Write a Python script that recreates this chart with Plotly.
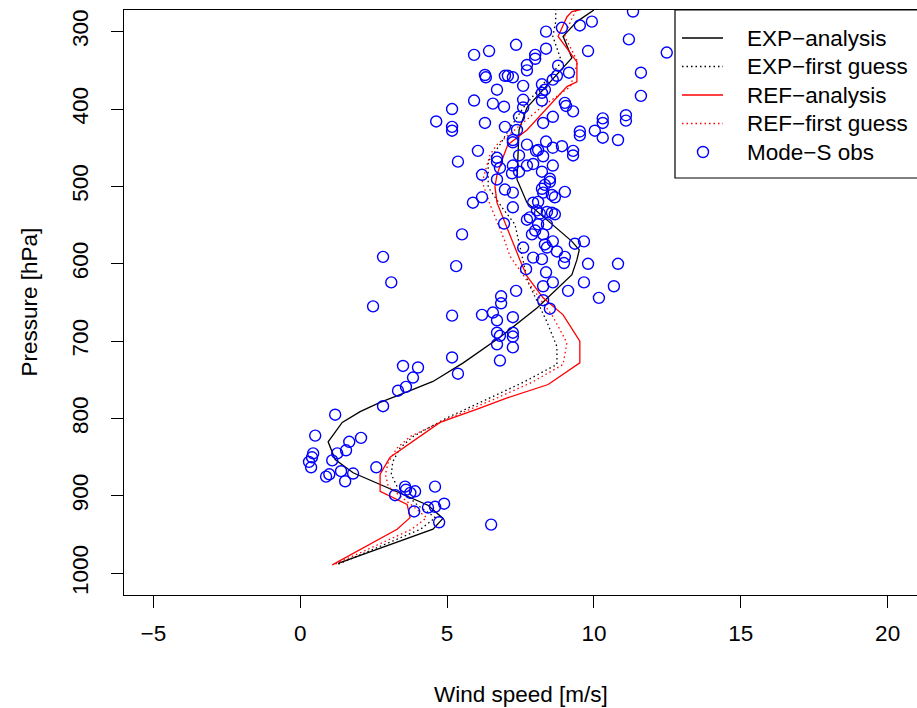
import plotly.graph_objects as go

# ---- model profiles: pressure levels [hPa] and wind speed [m/s] ----
exp_an_p = [987, 943, 929, 912, 870, 853, 830, 805, 791, 779, 769, 752, 728, 695, 657,
            614, 595, 582, 571, 521, 491, 427, 398, 334, 306, 287, 272]
exp_an_v = [1.29, 4.52, 4.86, 4.35, 1.8, 1.19, 0.95, 1.43, 2.04, 2.72, 3.4, 4.52, 5.55, 6.8, 8.06,
            9.25, 9.42, 9.5, 9.25, 7.72, 7.38, 7.45, 7.72, 9.25, 8.95, 9.42, 10.0]

exp_fg_p = [988, 943, 928, 912, 888, 872, 856, 838, 823, 799, 775, 753, 730, 707, 675,
            655, 624, 598, 549, 527, 501, 468, 446, 427, 398, 371, 339, 306, 287, 272]
exp_fg_v = [1.3, 4.1, 4.6, 4.0, 3.3, 3.1, 3.15, 3.4, 3.85, 5.0, 6.36, 7.6, 8.74, 8.74, 8.4,
            8.16, 7.76, 7.6, 7.31, 6.87, 6.4, 6.4, 6.8, 7.1, 7.6, 8.2, 8.9, 8.6, 8.7, 8.7]

ref_an_p = [989, 969, 943, 928, 911, 894, 872, 850, 830, 805, 788, 773, 756, 728, 700, 666,
            644, 616, 595, 521, 500, 485, 463, 446, 427, 371, 365, 339, 306, 281, 274, 271]
ref_an_v = [1.09, 2.04, 3.3, 3.74, 3.64, 2.72, 2.72, 3.06, 3.8, 4.76, 6.0, 7.07, 8.44, 9.52, 9.52, 8.95,
            8.27, 7.72, 7.48, 6.7, 6.63, 6.7, 6.9, 7.07, 7.72, 9.08, 9.42, 9.42, 8.78, 9.08, 9.25, 9.6]

ref_fg_p = [988, 943, 928, 912, 888, 872, 856, 838, 823, 799, 775, 753, 730, 702, 668,
            633, 590, 571, 523, 494, 459, 446, 427, 398, 371, 339, 306, 287, 272]
ref_fg_v = [1.2, 3.8, 4.3, 3.8, 3.0, 2.9, 3.0, 3.3, 3.75, 5.1, 6.6, 7.9, 8.95, 9.08, 8.6,
            7.93, 7.14, 6.97, 6.46, 6.2, 6.46, 6.7, 7.3, 8.2, 9.2, 9.45, 9.0, 9.2, 9.4]

# ---- Mode-S aircraft observations ----
obs_v = [11.33, 9.93, 9.52, 8.91, 8.37, 11.19, 12.48, 9.8, 7.35, 6.43, 5.92, 8.37, 8.0, 8.0,
         7.72, 7.72, 8.78, 9.15, 11.6, 6.29, 6.32, 6.97, 7.07, 7.24, 8.74, 8.6, 7.59, 8.23,
         8.33, 6.7, 8.23, 11.6, 5.92, 6.56, 7.59, 8.23, 6.94, 7.59, 9.01, 9.05, 9.29, 5.17,
         4.63, 5.17, 5.17, 6.29, 6.97, 7.45, 8.6, 8.27, 10.3, 10.3, 11.09, 11.09,
         7.38, 9.52, 9.52, 10.03, 10.3, 10.82, 6.05, 5.37, 7.24, 7.24, 7.72, 8.37, 8.03, 8.1,
         8.6, 8.91, 9.29, 9.29, 8.27, 7.45, 6.7, 6.7, 6.8, 7.24, 7.72, 7.93, 8.6, 6.19, 7.21,
         7.45, 8.23, 6.7, 8.5, 8.5, 8.33, 8.23, 9.01, 6.97, 7.24, 8.27, 8.57, 8.67, 6.19, 5.88,
         7.24, 7.93, 8.1, 8.06, 8.4, 8.57, 8.67, 8.16, 7.72, 7.82, 8.1, 8.4, 8.0, 6.94, 5.51,
         7.89, 8.27, 8.6, 8.33, 7.59, 8.4, 9.35, 9.66, 8.74, 7.93, 8.23, 9.01,
         5.31, 8.37, 7.69, 8.98, 9.8, 10.82, 8.6, 8.27, 9.66, 9.12, 10.68, 10.17, 8.27, 8.5,
         7.35, 6.84, 6.84, 6.56, 6.19, 5.17, 6.7, 7.24, 6.7, 6.8, 7.24, 7.24, 6.7, 7.24, 6.8,
         5.17, 5.37, 4.01, 3.5, 3.84, 3.6,
         2.82, 3.1, 2.48, 3.33, 2.82, 1.19,
         0.51, 2.07, 1.67, 1.56, 1.26, 0.44, 0.4, 0.3, 0.37, 1.09, 1.39, 1.53, 1.8, 0.99, 0.88,
         2.59, 3.57, 3.6, 3.75, 3.23, 3.91, 4.59, 3.88, 4.35, 4.59, 4.9, 4.73, 6.5]
obs_p = [274, 287, 292, 295, 300, 310, 327, 325, 317, 325, 330, 322, 330, 335,
         343, 350, 344, 353, 353, 356, 359, 357, 357, 359, 357, 362, 370, 368,
         375, 375, 379, 383, 389, 393, 388, 389, 397, 398, 392, 396, 403, 400,
         416, 423, 428, 418, 423, 410, 410, 418, 412, 418, 408, 415,
         427, 429, 434, 428, 437, 440, 454, 468, 440, 443, 446, 442, 454, 453,
         450, 448, 454, 460, 461, 460, 463, 468, 476, 473, 473, 471, 473, 485, 483,
         481, 481, 491, 490, 494, 498, 503, 507, 504, 508, 508, 511, 514, 514, 521,
         527, 521, 520, 531, 533, 534, 536, 535, 543, 540, 549, 549, 557, 548, 562,
         562, 562, 571, 575, 579, 579, 574, 571, 584, 592, 594, 591,
         603, 611, 607, 599, 600, 600, 624, 629, 624, 635, 629, 644, 647, 658,
         635, 642, 651, 663, 666, 667, 673, 669, 689, 693, 689, 694, 704, 708, 725,
         721, 742, 734, 732, 747, 759,
         591, 624, 655, 764, 784, 795,
         822, 825, 830, 841, 845, 845, 850, 856, 863, 854, 868, 881, 871, 872, 875,
         863, 888, 892, 896, 899, 894, 888, 920, 915, 914, 910, 934, 937]

x_ticks = [-5, 0, 5, 10, 15, 20]
y_ticks = [300, 400, 500, 600, 700, 800, 900, 1000]

legend_labels = ["EXP\u2212analysis", "EXP\u2212first guess", "REF\u2212analysis",
                 "REF\u2212first guess", "Mode\u2212S obs"]

FONT = "Liberation Sans, Arial, Helvetica, sans-serif"
FS = 22.5
BLACK, RED, BLUE = "black", "#ff0000", "#0000ff"
DOT = "1.5px,3px"
LW = 1.3

# figure geometry (pixels) used to place the hand-built legend box
W, H = 917, 708
ML, MR, MT, MB = 124, 0, 10, 113
PW, PH = W - ML - MR, H - MT - MB


def px_x(px):
    return (px - ML) / PW


def px_y(py):
    return (H - MB - py) / PH


fig = go.Figure()
fig.add_trace(go.Scatter(x=exp_an_v, y=exp_an_p, mode="lines", name=legend_labels[0],
                         line=dict(color=BLACK, width=LW)))
fig.add_trace(go.Scatter(x=exp_fg_v, y=exp_fg_p, mode="lines", name=legend_labels[1],
                         line=dict(color=BLACK, width=LW, dash=DOT)))
fig.add_trace(go.Scatter(x=ref_an_v, y=ref_an_p, mode="lines", name=legend_labels[2],
                         line=dict(color=RED, width=LW)))
fig.add_trace(go.Scatter(x=ref_fg_v, y=ref_fg_p, mode="lines", name=legend_labels[3],
                         line=dict(color=RED, width=LW, dash=DOT)))
fig.add_trace(go.Scatter(x=obs_v, y=obs_p, mode="markers", name=legend_labels[4],
                         marker=dict(symbol="circle-open", size=11, color=BLUE,
                                     line=dict(width=1.4, color=BLUE))))

# legend box in the top-right corner, R style
shapes = [dict(type="rect", xref="paper", yref="paper", x0=px_x(675), x1=px_x(918),
               y0=px_y(178), y1=px_y(10), line=dict(color=BLACK, width=1.2),
               fillcolor="white", layer="above")]
annotations = []
styles = [(BLACK, "solid"), (BLACK, DOT), (RED, "solid"), (RED, DOT), None]
row_y = [38, 66.5, 95, 123.5, 152]
for lab, sty, yy in zip(legend_labels, styles, row_y):
    if sty is None:
        r = 5.5
        shapes.append(dict(type="circle", xref="paper", yref="paper",
                           x0=px_x(703 - r), x1=px_x(703 + r),
                           y0=px_y(yy + r), y1=px_y(yy - r),
                           line=dict(color=BLUE, width=1.4), layer="above"))
    else:
        shapes.append(dict(type="line", xref="paper", yref="paper",
                           x0=px_x(682), x1=px_x(723), y0=px_y(yy), y1=px_y(yy),
                           line=dict(color=sty[0], width=LW, dash=sty[1]), layer="above"))
    annotations.append(dict(text=lab, xref="paper", yref="paper", x=px_x(745), y=px_y(yy),
                            xanchor="left", yanchor="middle", showarrow=False,
                            font=dict(family=FONT, size=FS, color=BLACK)))

annotations += [
    dict(text="Wind speed [m/s]", xref="paper", yref="paper", x=0.5, y=px_y(694),
         xanchor="center", yanchor="middle", showarrow=False,
         font=dict(family=FONT, size=FS, color=BLACK)),
    dict(text="Pressure [hPa]", xref="paper", yref="paper", x=px_x(29), y=0.5,
         xanchor="center", yanchor="middle", textangle=-90, showarrow=False,
         font=dict(family=FONT, size=FS, color=BLACK)),
]

axis_common = dict(showgrid=False, zeroline=False, showline=True, mirror=True,
                   linecolor=BLACK, linewidth=1.2, ticks="outside", ticklen=12,
                   tickwidth=1.2, tickcolor=BLACK,
                   tickfont=dict(family=FONT, size=FS, color=BLACK))

fig.update_layout(
    width=W, height=H,
    margin=dict(l=ML, r=MR, t=MT, b=MB),
    paper_bgcolor="white", plot_bgcolor="white",
    font=dict(family=FONT, size=FS, color=BLACK),
    showlegend=False,
    xaxis=dict(range=[-6, 21], tickvals=x_ticks, ticklabelstandoff=6, **axis_common),
    yaxis=dict(range=[1028, 272], tickvals=y_ticks, tickangle=-90,
               ticklabelstandoff=14, **axis_common),
    shapes=shapes,
    annotations=annotations,
)

fig.write_html("out.html")
